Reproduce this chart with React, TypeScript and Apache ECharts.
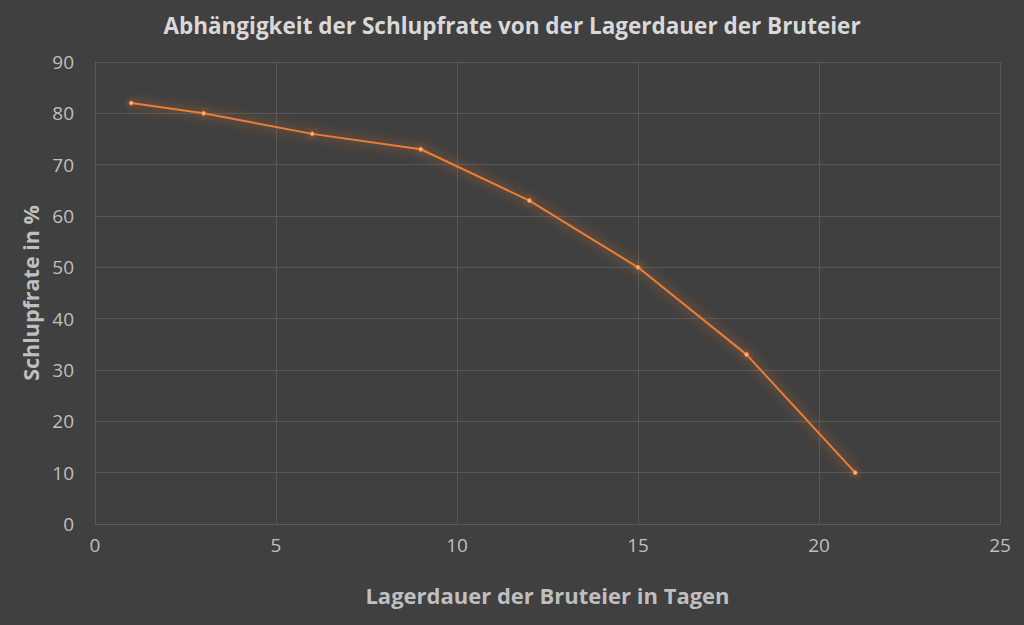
import React, { useEffect, useRef } from "react";
import * as echarts from "echarts";

const titleText = "Abhängigkeit der Schlupfrate von der Lagerdauer der Bruteier";
const xAxisName = "Lagerdauer der Bruteier in Tagen";
const yAxisName = "Schlupfrate in %";
const storageDays = [1, 3, 6, 9, 12, 15, 18, 21];
const hatchRate = [82, 80, 76, 73, 63, 50, 33, 10];

export default function App() {
  const ref = useRef<HTMLDivElement>(null);
  useEffect(() => {
    document.body.style.margin = "0";
    const chart = echarts.init(ref.current!, null, { renderer: "svg" });
    const font = "'Open Sans', 'Noto Sans', sans-serif";
    chart.setOption({
      animation: false,
      backgroundColor: "#404040",
      title: {
        text: titleText,
        left: "center",
        top: 9,
        textStyle: { color: "#d9d9d9", fontSize: 22.5, fontWeight: "bold", fontFamily: font },
      },
      grid: { left: 95, right: 24, top: 62, bottom: 101 },
      xAxis: {
        type: "value",
        min: 0,
        max: 25,
        interval: 5,
        name: xAxisName,
        nameLocation: "middle",
        nameGap: 60,
        nameTextStyle: { color: "#bfbfbf", fontSize: 22, fontWeight: "bold", fontFamily: font },
        axisLine: { show: true, lineStyle: { color: "#5a5a5a" } },
        axisTick: { show: false },
        axisLabel: { color: "#bfbfbf", fontSize: 19, margin: 11, fontFamily: font },
        splitLine: { show: true, lineStyle: { color: "#575757", width: 1 } },
      },
      yAxis: {
        type: "value",
        min: 0,
        max: 90,
        interval: 10,
        name: yAxisName,
        nameLocation: "middle",
        nameGap: 51,
        nameTextStyle: { color: "#bfbfbf", fontSize: 21.5, fontWeight: "bold", fontFamily: font },
        axisLine: { show: true, lineStyle: { color: "#5a5a5a" } },
        axisTick: { show: false },
        axisLabel: { color: "#bfbfbf", fontSize: 19, margin: 21, fontFamily: font },
        splitLine: { show: true, lineStyle: { color: "#575757", width: 1 } },
      },
      series: [
        {
          type: "line",
          data: storageDays.map((d, i) => [d, hatchRate[i]]),
          lineStyle: {
            color: "#ed7d31",
            width: 2,
            shadowColor: "rgba(237,125,49,0.9)",
            shadowBlur: 12,
          },
          symbol: "circle",
          symbolSize: 4,
          itemStyle: {
            color: "#f7b98a",
            borderColor: "#ed7d31",
            borderWidth: 1,
            shadowColor: "rgba(237,125,49,0.9)",
            shadowBlur: 8,
          },
        },
      ],
    });
    return () => chart.dispose();
  }, []);
  return <div ref={ref} style={{ width: 1024, height: 625 }} />;
}
